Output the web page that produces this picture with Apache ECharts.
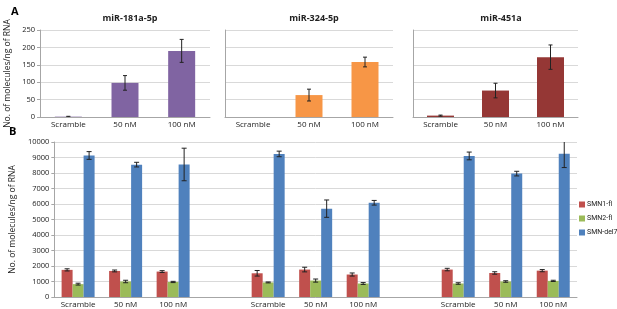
<!DOCTYPE html>
<html>
<head>
<meta charset="utf-8">
<script src="https://cdn.jsdelivr.net/npm/echarts@6/dist/echarts.min.js"></script>
<style>
  html, body { margin: 0; padding: 0; background: #fff; }
  #chart { width: 617px; height: 309px; }
</style>
</head>
<body>
<div id="chart"></div>
<script>
// Panel A: miRNA levels
const catsA = ['Scramble', '50 nM', '100 nM']
const mir181 = [1, 98, 190]
const mir181Err = [1, 21, 33]
const mir324 = [0, 63, 158]
const mir324Err = [0, 17, 14]
const mir451 = [4, 76, 172]
const mir451Err = [1.5, 21, 35]

// Panel B: SMN transcripts (blank categories separate the three groups)
const catsB = ['Scramble', '50 nM', '100 nM', '', 'Scramble', '50 nM', '100 nM', '', 'Scramble', '50 nM', '100 nM']
const smn1 = [1750, 1680, 1640, null, 1530, 1770, 1450, null, 1770, 1550, 1700]
const smn1Err = [70, 60, 60, null, 180, 150, 100, null, 80, 80, 70]
const smn2 = [830, 1000, 970, null, 940, 1060, 870, null, 870, 1000, 1040]
const smn2Err = [60, 80, 40, null, 30, 100, 60, null, 50, 50, 40]
const del7 = [9130, 8540, 8550, null, 9230, 5700, 6080, null, 9100, 7960, 9250]
const del7Err = [250, 150, 1050, null, 180, 560, 150, null, 250, 150, 900]

const FONT = 'Open Sans'
const yName = 'No. of molecules/ng of RNA'
const gridCol = '#d9d9d9'

function errBars (idx, values, errs, offset, cap) {
  const data = []
  values.forEach((v, i) => {
    if (v !== null && errs[i]) data.push([i, v - errs[i], v + errs[i]])
  })
  return {
    type: 'custom',
    xAxisIndex: idx,
    yAxisIndex: idx,
    clip: true,
    z: 10,
    silent: true,
    encode: { x: 0, y: [1, 2] },
    data: data,
    renderItem: function (params, api) {
      const lo = api.coord([api.value(0), api.value(1)])
      const hi = api.coord([api.value(0), api.value(2)])
      const x = lo[0] + offset
      const st = { stroke: '#222', lineWidth: 1 }
      return {
        type: 'group',
        children: [
          { type: 'line', shape: { x1: x, y1: lo[1], x2: x, y2: hi[1] }, style: st },
          { type: 'line', shape: { x1: x - cap, y1: lo[1], x2: x + cap, y2: lo[1] }, style: st },
          { type: 'line', shape: { x1: x - cap, y1: hi[1], x2: x + cap, y2: hi[1] }, style: st }
        ]
      }
    }
  }
}

function xAxis (idx, cats) {
  return {
    type: 'category',
    gridIndex: idx,
    data: cats,
    axisLine: { lineStyle: { color: '#a6a6a6' } },
    axisTick: { show: false },
    axisLabel: { color: '#222', fontSize: 8, fontFamily: FONT, margin: 4, interval: 0 }
  }
}

function yAxis (idx, max, step, labels, name) {
  return {
    type: 'value',
    gridIndex: idx,
    min: 0,
    max: max,
    interval: step,
    name: name || '',
    nameLocation: 'middle',
    nameGap: 28,
    nameTextStyle: { color: '#222', fontSize: 8.5, fontFamily: FONT },
    axisLine: { show: true, lineStyle: { color: '#a6a6a6' } },
    axisTick: { show: labels, length: 3, lineStyle: { color: '#a6a6a6' } },
    axisLabel: { show: labels, color: '#222', fontSize: 7.5, fontFamily: FONT, margin: 5, formatter: v => String(v) },
    splitLine: { lineStyle: { color: gridCol } }
  }
}

function barA (idx, values, color) {
  return {
    type: 'bar',
    xAxisIndex: idx,
    yAxisIndex: idx,
    data: values,
    barWidth: 27,
    itemStyle: { color: color }
  }
}

function barB (name, values, color) {
  return {
    type: 'bar',
    name: name,
    xAxisIndex: 3,
    yAxisIndex: 3,
    data: values,
    barWidth: 11,
    barGap: '0%',
    itemStyle: { color: color }
  }
}

const chart = echarts.init(document.getElementById('chart'), null, { renderer: 'canvas', width: 617, height: 309 })

const titleStyle = { color: '#222', fontSize: 9, fontWeight: 'bold', fontFamily: FONT }

const option = {
  animation: false,
  backgroundColor: '#fff',
  title: [
    { text: 'A', left: 6, top: 1, textStyle: { color: '#000', fontSize: 11, fontWeight: 'bold', fontFamily: FONT } },
    { text: 'B', left: 4, top: 121, textStyle: { color: '#000', fontSize: 11, fontWeight: 'bold', fontFamily: FONT } },
    { text: 'miR-181a-5p', left: 125, top: 9, textAlign: 'center', textStyle: titleStyle },
    { text: 'miR-324-5p', left: 309, top: 9, textAlign: 'center', textStyle: titleStyle },
    { text: 'miR-451a', left: 496, top: 9, textAlign: 'center', textStyle: titleStyle }
  ],
  legend: {
    orient: 'vertical',
    left: 579,
    top: 201,
    padding: 0,
    itemWidth: 6,
    itemHeight: 6,
    itemGap: 7,
    icon: 'rect',
    textStyle: { color: '#222', fontSize: 7, fontFamily: 'Liberation Sans Narrow, Roboto', padding: [0, 0, 0, -3] },
    data: ['SMN1-fl', 'SMN2-fl', 'SMN-del7']
  },
  grid: [
    { left: 40, top: 30, width: 170, height: 87 },
    { left: 225, top: 30, width: 168, height: 87 },
    { left: 413, top: 30, width: 165, height: 87 },
    { left: 40, top: 142, width: 537, height: 156 }
  ],
  xAxis: [xAxis(0, catsA), xAxis(1, catsA), xAxis(2, catsA), xAxis(3, catsB)],
  yAxis: [
    yAxis(0, 250, 50, true, yName),
    yAxis(1, 250, 50, false),
    yAxis(2, 250, 50, false),
    yAxis(3, 10000, 1000, true, yName)
  ],
  series: [
    barA(0, mir181, '#8064a2'),
    barA(1, mir324, '#f79646'),
    barA(2, mir451, '#953735'),
    errBars(0, mir181, mir181Err, 0, 2),
    errBars(1, mir324, mir324Err, 0, 2),
    errBars(2, mir451, mir451Err, 0, 2),
    barB('SMN1-fl', smn1, '#c0504d'),
    barB('SMN2-fl', smn2, '#9bbb59'),
    barB('SMN-del7', del7, '#4f81bd'),
    errBars(3, smn1, smn1Err, -11, 2.5),
    errBars(3, smn2, smn2Err, 0, 2.5),
    errBars(3, del7, del7Err, 11, 2.5)
  ]
}

chart.setOption(option)
</script>
</body>
</html>
